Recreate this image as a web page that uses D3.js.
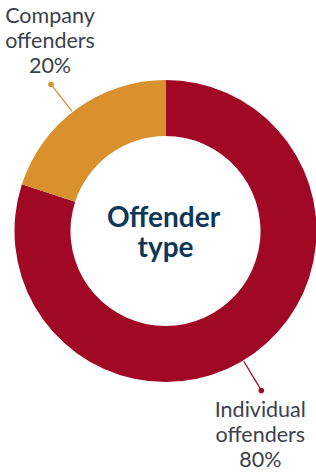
<!DOCTYPE html>
<html>
<head>
<meta charset="utf-8">
<script src="https://cdn.jsdelivr.net/npm/d3@7"></script>
<style>
  body { margin: 0; background: #fff; }
  svg { display: block; font-family: Lato, "Open Sans", sans-serif; }
</style>
</head>
<body>
<div id="chart"></div>
<script>
// data
var categories = ["Individual offenders", "Company offenders"];
var shares = [80, 20];
var labelLines = [["Individual", "offenders"], ["Company", "offenders"]];
var colors = ["#A00826", "#D8912C"];

var width = 316, height = 475;
var cx = 165.5, cy = 231;
var outerR = 151, innerR = 95;
// small angular nudge (degrees) of each leader line away from the slice middle
var leaderNudge = [5, -2];

var svg = d3.select("#chart").append("svg")
    .attr("width", width)
    .attr("height", height);

var g = svg.append("g")
    .attr("transform", "translate(" + cx + "," + cy + ")");

var data = categories.map(function(c, i) { return { name: c, value: shares[i], i: i }; });

var pie = d3.pie().sort(null).value(function(d) { return d.value; });
var arc = d3.arc().innerRadius(innerR).outerRadius(outerR);
var arcs = pie(data);

g.selectAll("path.slice").data(arcs)
  .enter().append("path")
    .attr("class", "slice")
    .attr("d", arc)
    .attr("fill", function(d) { return colors[d.data.i]; });

// leader lines
function polar(r, a) { return [Math.sin(a) * r, -Math.cos(a) * r]; }
var lineStart = outerR + 1, lineEnd = 186;

arcs.forEach(function(d) {
    var a = (d.startAngle + d.endAngle) / 2 + leaderNudge[d.data.i] * Math.PI / 180;
    var p0 = polar(lineStart, a), p1 = polar(lineEnd, a);
    var col = colors[d.data.i];
    g.append("line")
        .attr("x1", p0[0]).attr("y1", p0[1])
        .attr("x2", p1[0]).attr("y2", p1[1])
        .attr("stroke", col).attr("stroke-width", 1.3);
    g.append("circle")
        .attr("cx", p1[0]).attr("cy", p1[1]).attr("r", 2.8)
        .attr("fill", col);

    var lines = labelLines[d.data.i].concat([d.data.value + "%"]);
    var up = p1[1] < 0;
    var lh = 25;
    var tx = p1[0] - 1;
    var firstBase = up ? p1[1] - 11 - lh * (lines.length - 1) : p1[1] + 27;
    var t = g.append("text")
        .attr("text-anchor", "middle")
        .attr("fill", "#3B414C")
        .attr("font-size", 21.5);
    lines.forEach(function(s, k) {
        t.append("tspan").attr("x", tx).attr("y", firstBase + k * lh).text(s);
    });
});

// centre title
var title = g.append("text")
    .attr("text-anchor", "middle")
    .attr("fill", "#0E3858")
    .attr("font-size", 28)
    .attr("font-weight", "bold");
title.append("tspan").attr("x", -2).attr("y", -4).text("Offender");
title.append("tspan").attr("x", 0).attr("y", 26).text("type");
</script>
</body>
</html>
